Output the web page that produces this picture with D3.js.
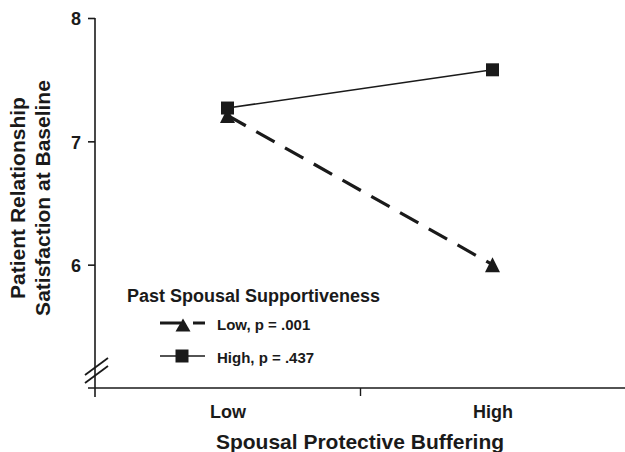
<!DOCTYPE html>
<html>
<head>
<meta charset="utf-8">
<script src="https://cdn.jsdelivr.net/npm/d3@7"></script>
<style>
  html, body { margin: 0; padding: 0; background: #fff; }
  svg { display: block; }
  text { font-family: "Liberation Sans", Arial, Helvetica, sans-serif; font-weight: bold; fill: #1a1a1a; }
</style>
</head>
<body>
<svg id="chart" width="625" height="452"></svg>
<script>
// ---- data ----
const categories = ["Low", "High"];           // Spousal Protective Buffering
const categoryPos = [1, 3];                    // positions on the x axis
const seriesNames = ["Low, p = .001", "High, p = .437"];
const lowSupport = [7.21, 6.0];               // triangles, dashed
const highSupport = [7.27, 7.58];             // squares, solid
const yTicks = [6, 7, 8];
const xTitle = "Spousal Protective Buffering";
const yTitle = ["Patient Relationship", "Satisfaction at Baseline"];
const legendTitle = "Past Spousal Supportiveness";

const svg = d3.select("#chart");
const ink = "#1a1a1a";

const x = d3.scaleLinear().domain([0, 4]).range([95, 625]);
const y = d3.scaleLinear().domain([5, 8]).range([388, 18]);

// axes lines
svg.append("line").attr("x1", x(0)).attr("x2", x(0))
  .attr("y1", y(8)).attr("y2", y(5) + 9)
  .attr("stroke", ink).attr("stroke-width", 1.6);
svg.append("line").attr("x1", x(0) - 7).attr("x2", x(4))
  .attr("y1", y(5)).attr("y2", y(5))
  .attr("stroke", ink).attr("stroke-width", 1.6);

// y axis ticks
const yAxis = svg.append("g").attr("transform", `translate(${x(0)},0)`)
  .call(d3.axisLeft(y).tickValues(yTicks).tickSize(7).tickPadding(7).tickFormat(d3.format("d")));
yAxis.select(".domain").remove();
yAxis.selectAll(".tick line").attr("stroke", ink).attr("stroke-width", 1.6);
yAxis.selectAll(".tick text").attr("font-size", 18).attr("dy", "0.38em")
  .style("font-family", "'Liberation Sans', Arial, sans-serif").style("font-weight", "bold").attr("fill", ink);

// x axis middle tick
const xTick = svg.append("g").attr("transform", `translate(0,${y(5)})`)
  .call(d3.axisBottom(x).tickValues([2]).tickSize(8).tickFormat(""));
xTick.select(".domain").remove();
xTick.selectAll(".tick line").attr("stroke", ink).attr("stroke-width", 1.4);

// x axis category labels
const xLab = svg.append("g").attr("transform", `translate(0,${y(5)})`)
  .call(d3.axisBottom(x).tickValues(categoryPos).tickSize(0).tickPadding(17)
    .tickFormat((d, i) => categories[i]));
xLab.select(".domain").remove();
xLab.selectAll(".tick text").attr("font-size", 18)
  .style("font-family", "'Liberation Sans', Arial, sans-serif").style("font-weight", "bold").attr("fill", ink);

// axis break marks
[0, 8].forEach(off => {
  svg.append("line")
    .attr("x1", x(0) - 10).attr("y1", y(5) - 13 + off)
    .attr("x2", x(0) + 13).attr("y2", y(5) - 30 + off)
    .attr("stroke", ink).attr("stroke-width", 1.8);
});

// titles
svg.append("text").attr("x", 360).attr("y", 449).attr("text-anchor", "middle")
  .attr("font-size", 21).text(xTitle);
const yt = svg.append("text").attr("transform", "translate(0,198) rotate(-90)")
  .attr("text-anchor", "middle").attr("font-size", 21);
yTitle.forEach((t, i) => yt.append("tspan").attr("x", 0).attr("y", 25 + i * 25).text(t));

// symbols
function triPath(cx, cy, w, h) {
  return `M${cx},${cy - h / 2}L${cx + w / 2},${cy + h / 2}L${cx - w / 2},${cy + h / 2}Z`;
}
function sqPath(cx, cy, s) {
  return `M${cx - s / 2},${cy - s / 2}h${s}v${s}h${-s}Z`;
}

const line = d3.line().x((d, i) => x(categoryPos[i])).y(d => y(d));

// lines
svg.append("path").datum(highSupport).attr("d", line)
  .attr("fill", "none").attr("stroke", ink).attr("stroke-width", 1.6);
svg.append("path").datum(lowSupport).attr("d", line)
  .attr("fill", "none").attr("stroke", ink).attr("stroke-width", 3.2)
  .attr("stroke-dasharray", "21,12");

// markers
svg.selectAll(".sq").data(highSupport).join("path").attr("class", "sq")
  .attr("d", (d, i) => sqPath(x(categoryPos[i]), y(d), 13)).attr("fill", ink);
svg.selectAll(".tri").data(lowSupport).join("path").attr("class", "tri")
  .attr("d", (d, i) => triPath(x(categoryPos[i]), y(d), 15, 15)).attr("fill", ink);

// legend
svg.append("text").attr("x", 127).attr("y", 302).attr("font-size", 18).text(legendTitle);
const legY = [323, 356];
svg.append("line").attr("x1", 160).attr("x2", 205).attr("y1", legY[0]).attr("y2", legY[0])
  .attr("stroke", ink).attr("stroke-width", 3.2).attr("stroke-dasharray", "21,12");
svg.append("path").attr("d", triPath(183, legY[0] + 2, 15, 13)).attr("fill", ink);
svg.append("line").attr("x1", 160).attr("x2", 205).attr("y1", legY[1]).attr("y2", legY[1])
  .attr("stroke", ink).attr("stroke-width", 1.6);
svg.append("path").attr("d", sqPath(182, legY[1], 13)).attr("fill", ink);
seriesNames.forEach((n, i) => {
  svg.append("text").attr("x", 217).attr("y", legY[i] + 6.5).attr("font-size", 15).text(n);
});
</script>
</body>
</html>
